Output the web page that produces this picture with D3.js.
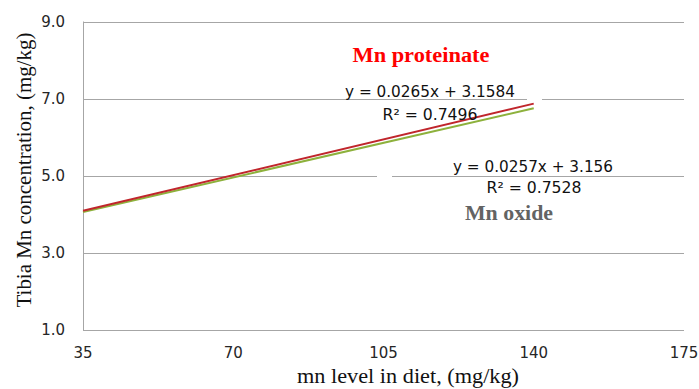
<!DOCTYPE html>
<html>
<head>
<meta charset="utf-8">
<script src="https://cdn.jsdelivr.net/npm/d3@7"></script>
<style>
  body { margin: 0; background: #fff; }
</style>
</head>
<body>
<svg width="699" height="389"></svg>
<script>
// tibia Mn vs dietary Mn, two fitted trend lines

const xTicks = [35, 70, 105, 140, 175];
const yTicks = [1, 3, 5, 7, 9];
const doseRange = [35, 140];
const proteinate = [4.09, 6.87];
const oxide = [4.06, 6.75];
const eqProteinate = ["y = 0.0265x + 3.1584", "R\u00b2 = 0.7496"];
const eqOxide = ["y = 0.0257x + 3.156", "R\u00b2 = 0.7528"];

const plotLeft = 83, plotRight = 684, plotTop = 21.5, plotBottom = 330;
let svg = d3.select('svg');

let x = d3.scaleLinear().domain([35, 175]).range([plotLeft, plotRight]);
let y = d3.scaleLinear().domain([1, 9]).range([plotBottom, plotTop]);

// grid
svg.append('g')
    .selectAll('line')
    .data(yTicks)
    .enter()
    .append('line')
    .attr('x1', plotLeft)
    .attr('x2', plotRight)
    .attr('y1', d => Math.round(y(d)) + 0.5)
    .attr('y2', d => Math.round(y(d)) + 0.5)
    .attr('stroke', '#a6a6a6')
    .attr('stroke-width', 1);

// little breaks in the grid where the label boxes sat
svg.append('rect').attr('x', 527).attr('y', Math.round(y(7)) - 2).attr('width', 15).attr('height', 5).attr('fill', '#fff');
svg.append('rect').attr('x', 377).attr('y', Math.round(y(5)) - 2).attr('width', 15).attr('height', 5).attr('fill', '#fff');

// y axis line
svg.append('line')
    .attr('x1', plotLeft + 0.5).attr('x2', plotLeft + 0.5)
    .attr('y1', plotTop).attr('y2', plotBottom)
    .attr('stroke', '#a6a6a6');

// tick labels
svg.append('g')
    .selectAll('text')
    .data(xTicks)
    .enter()
    .append('text')
    .attr('x', d => x(d))
    .attr('y', 358)
    .attr('text-anchor', 'middle')
    .attr('font-family', 'DejaVu Sans')
    .attr('font-size', '15px')
    .attr('fill', '#262626')
    .text(d => d);

svg.append('g')
    .selectAll('text')
    .data(yTicks)
    .enter()
    .append('text')
    .attr('x', 65)
    .attr('y', d => y(d))
    .attr('dy', '0.36em')
    .attr('text-anchor', 'end')
    .attr('font-family', 'DejaVu Sans')
    .attr('font-size', '15px')
    .attr('fill', '#262626')
    .text(d => d3.format('.1f')(d));

// trend lines
let line = d3.line()
    .x((d, i) => x(doseRange[i]))
    .y(d => y(d));

svg.append('path')
    .datum(oxide)
    .attr('d', line)
    .attr('fill', 'none')
    .attr('stroke', '#8db13c')
    .attr('stroke-width', 2);

svg.append('path')
    .datum(proteinate)
    .attr('d', line)
    .attr('fill', 'none')
    .attr('stroke', '#c0262c')
    .attr('stroke-width', 2);

// annotations
function label(txt, cx, cy, opts) {
    svg.append('text')
        .attr('x', cx)
        .attr('y', cy)
        .attr('text-anchor', 'middle')
        .attr('font-family', opts.family)
        .attr('font-size', opts.size)
        .attr('font-weight', opts.weight || 'normal')
        .attr('fill', opts.fill || '#000')
        .attr('textLength', opts.len)
        .attr('lengthAdjust', 'spacingAndGlyphs')
        .text(txt);
}

const eqFont = { family: 'DejaVu Sans', size: '15px', fill: '#111' };
label(eqProteinate[0], 430, 97, Object.assign({ len: 170 }, eqFont));
label(eqProteinate[1], 430, 120, Object.assign({ len: 95 }, eqFont));
label(eqOxide[0], 533, 172, Object.assign({ len: 160 }, eqFont));
label(eqOxide[1], 534, 193, Object.assign({ len: 95 }, eqFont));

label('Mn proteinate', 421, 62, { family: 'Liberation Serif', size: '20px', weight: 'bold', fill: '#ff0000', len: 137 });
label('Mn oxide', 509, 220, { family: 'Liberation Serif', size: '20px', weight: 'bold', fill: '#636363', len: 88 });

// axis titles
label('mn level in diet, (mg/kg)', 408, 383, { family: 'Liberation Serif', size: '20px', fill: '#111', len: 222 });

svg.append('text')
    .attr('transform', 'translate(31,170) rotate(-90)')
    .attr('text-anchor', 'middle')
    .attr('font-family', 'Liberation Serif')
    .attr('font-size', '20px')
    .attr('fill', '#111')
    .attr('textLength', 275)
    .attr('lengthAdjust', 'spacingAndGlyphs')
    .text('Tibia Mn concentration, (mg/kg)');
</script>
</body>
</html>
